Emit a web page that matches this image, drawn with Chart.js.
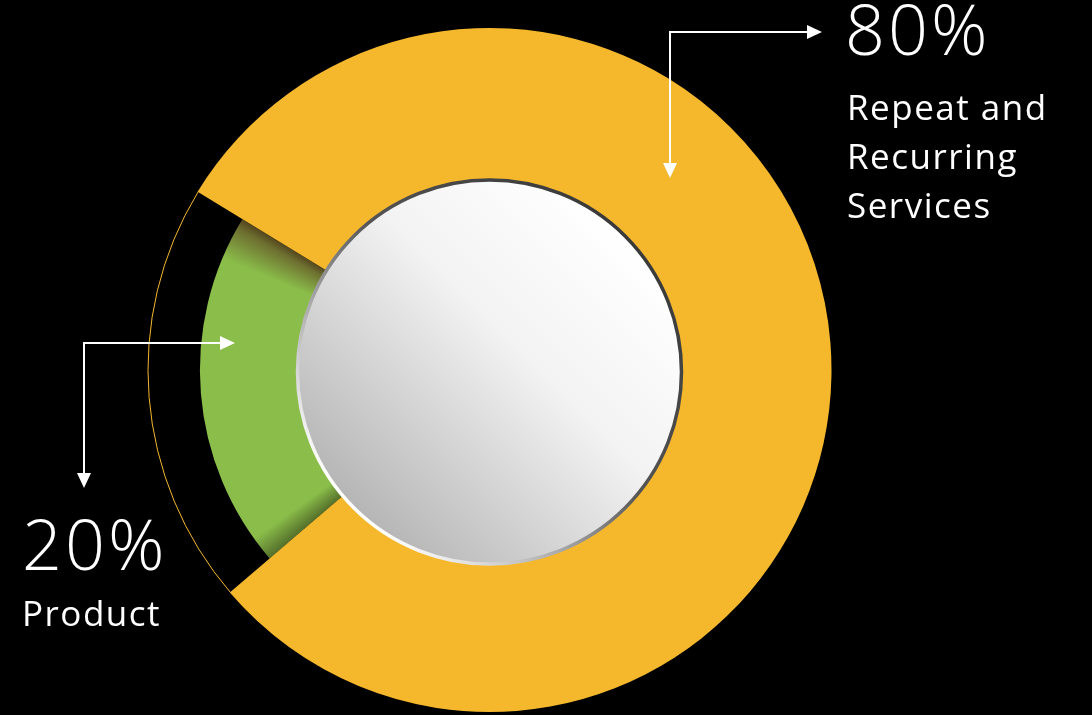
<!DOCTYPE html>
<html>
<head>
<meta charset="utf-8">
<script src="https://cdn.jsdelivr.net/npm/chart.js@4"></script>
<style>
    html, body { margin: 0; padding: 0; background: #000; }
    #wrap { width: 1092px; height: 715px; position: relative; }
</style>
</head>
<body>
<div id="wrap"><canvas id="mix"></canvas></div>
<script>
// chart values
const categories = ["Product", "Repeat and Recurring Services"];
const shares = [20, 80];
const labelLines = [["Product"], ["Repeat and", "Recurring", "Services"]];
const sliceColors = ["#8abd4a", "#f5b82d"];

const ORANGE = "#f5b82d";
const GREEN = "#8abd4a";

// green slice has a shorter outer edge, leaving a black gap with a thin orange rim
const shortSlice = {
    id: "shortSlice",
    afterDatasetUpdate(chart) {
        const arc = chart.getDatasetMeta(0).data[0];
        if (!arc) return;
        arc.fullRadius = arc.outerRadius;
        arc.outerRadius = arc.innerRadius + (arc.outerRadius - arc.innerRadius) * 0.655;
    },
    afterDatasetsDraw(chart) {
        const ctx = chart.ctx;
        const arc = chart.getDatasetMeta(0).data[0];
        ctx.save();
        ctx.strokeStyle = ORANGE;
        ctx.lineWidth = 1;
        ctx.beginPath();
        ctx.arc(arc.x, arc.y, arc.fullRadius - 0.5, arc.startAngle, arc.endAngle);
        ctx.stroke();

        // centre disc
        const cx = arc.x, cy = arc.y + 2, r = 192;
        let g = ctx.createLinearGradient(cx + r * 0.7, cy - r * 0.7, cx - r * 0.7, cy + r * 0.7);
        g.addColorStop(0, "#ffffff");
        g.addColorStop(0.4, "#f3f3f3");
        g.addColorStop(1, "#b6b6b6");
        ctx.fillStyle = g;
        ctx.beginPath();
        ctx.arc(cx, cy, r, 0, Math.PI * 2);
        ctx.fill();
        let s = ctx.createLinearGradient(cx + r * 0.7, cy - r * 0.7, cx - r * 0.7, cy + r * 0.7);
        s.addColorStop(0, "#3a3a3a");
        s.addColorStop(0.45, "#555555");
        s.addColorStop(0.7, "#a8a8a8");
        s.addColorStop(1, "#ffffff");
        ctx.strokeStyle = s;
        ctx.lineWidth = 3.5;
        ctx.beginPath();
        ctx.arc(cx, cy, r, 0, Math.PI * 2);
        ctx.stroke();
        ctx.restore();
    }
};

function arrow(ctx, pts) {
    ctx.beginPath();
    ctx.moveTo(pts[0][0], pts[0][1]);
    for (let i = 1; i < pts.length; i++) ctx.lineTo(pts[i][0], pts[i][1]);
    ctx.stroke();
}
function head(ctx, x, y, dir) {
    ctx.beginPath();
    if (dir === "right") {
        ctx.moveTo(x, y); ctx.lineTo(x - 15, y - 7); ctx.lineTo(x - 15, y + 7);
    } else {
        ctx.moveTo(x, y); ctx.lineTo(x - 7, y - 15); ctx.lineTo(x + 7, y - 15);
    }
    ctx.closePath();
    ctx.fill();
}

// callouts
const callouts = {
    id: "callouts",
    afterDraw(chart) {
        const ctx = chart.ctx;
        ctx.save();
        ctx.strokeStyle = "#fff";
        ctx.fillStyle = "#fff";
        ctx.lineWidth = 2;

        // right arrow (services)
        arrow(ctx, [[670, 165], [670, 32], [808, 32]]);
        head(ctx, 822, 32, "right");
        head(ctx, 670, 178, "down");
        // left arrow (product)
        arrow(ctx, [[220, 343], [84, 343], [84, 474]]);
        head(ctx, 235, 343, "right");
        head(ctx, 84, 488, "down");

        ctx.textBaseline = "alphabetic";
        ctx.textAlign = "left";
        ctx.font = "300 70px 'Open Sans'";
        ctx.letterSpacing = "3px";
        ctx.fillText(shares[1] + "%", 845, 55);
        ctx.fillText(shares[0] + "%", 22, 570);
        ctx.font = "35px 'Open Sans'";
        ctx.letterSpacing = "1.5px";
        labelLines[1].forEach((t, i) => ctx.fillText(t, 847, 120 + i * 49));
        labelLines[0].forEach((t, i) => ctx.fillText(t, 22, 626 + i * 49));
        ctx.restore();
    }
};

function sliceFill(context) {
    const chart = context.chart;
    const area = chart.chartArea;
    if (context.dataIndex !== 0 || !area) return sliceColors[context.dataIndex];
    const cx = (area.left + area.right) / 2;
    const cy = (area.top + area.bottom) / 2;
    const start = (chart.options.rotation - 90) * Math.PI / 180;
    const span = shares[0] / 100;
    const g = chart.ctx.createConicGradient(start, cx, cy);
    g.addColorStop(0, "#55702b");
    g.addColorStop(span * 0.07, GREEN);
    g.addColorStop(span * 0.88, GREEN);
    g.addColorStop(span * 0.97, "#6e7030");
    g.addColorStop(span, "#54461f");
    g.addColorStop(1, GREEN);
    return g;
}

new Chart(document.getElementById("mix"), {
    type: "doughnut",
    data: {
        labels: categories,
        datasets: [
            {
                data: shares,
                backgroundColor: sliceFill,
                borderWidth: 0,
            },
        ],
    },
    options: {
        responsive: true,
        maintainAspectRatio: false,
        animation: false,
        events: [],
        rotation: 229.4,
        cutout: 190,
        layout: { padding: { top: 28, bottom: 3, left: 0, right: 113 } },
        plugins: {
            legend: { display: false },
            tooltip: { enabled: false },
        },
    },
    plugins: [shortSlice, callouts],
});
</script>
</body>
</html>
